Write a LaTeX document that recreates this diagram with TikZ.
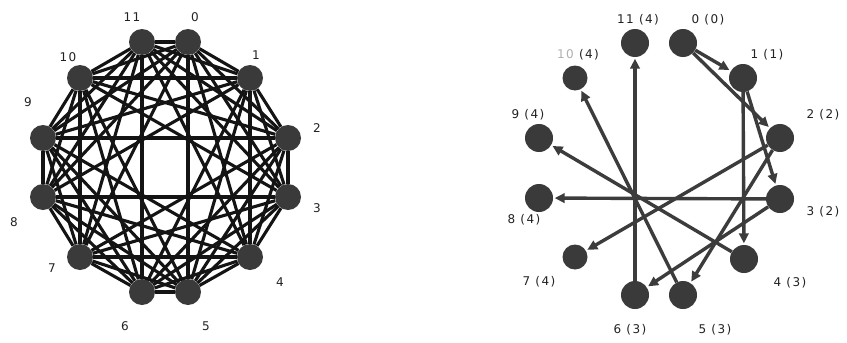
\documentclass[tikz,border=0pt]{standalone}
\usepackage{fontspec}
\setmainfont{DejaVu Sans}
\usetikzlibrary{arrows.meta}
\definecolor{nodegray}{HTML}{3A3A3A}
\definecolor{arcgray}{HTML}{3C3C3C}
\definecolor{labelgray}{HTML}{222222}
\definecolor{fadegray}{HTML}{B0B0B0}
\begin{document}
\begin{tikzpicture}[x=1pt,y=-1pt,
  vtx/.style={circle,fill=nodegray,inner sep=0pt,minimum size=26pt},
  rvtx/.style={circle,fill=nodegray,inner sep=0pt,minimum size=28pt},
  edge/.style={line width=3.1pt,draw=black!92},
  arc/.style={line width=3.4pt,draw=arcgray,-{Triangle[length=10pt,width=9.5pt]},shorten >=1.5pt},
  lbl/.style={font=\fontsize{12}{14}\selectfont\addfontfeature{LetterSpace=12},text=labelgray,inner sep=0pt}
]
\useasboundingbox (0,0) rectangle (847,343);
\fill[white] (0,0) rectangle (847,343);

% ---------- left graph ----------
\node[vtx] (L0)  at (188,42)  {};
\node[vtx] (L1)  at (250,78)  {};
\node[vtx] (L2)  at (288,138) {};
\node[vtx] (L3)  at (288,197) {};
\node[vtx] (L4)  at (250,257) {};
\node[vtx] (L5)  at (188,292) {};
\node[vtx] (L6)  at (142,292) {};
\node[vtx] (L7)  at (80,257)  {};
\node[vtx] (L8)  at (43,197)  {};
\node[vtx] (L9)  at (43,138)  {};
\node[vtx] (L10) at (80,78)   {};
\node[vtx] (L11) at (142,42)  {};

\foreach \i in {0,...,11}{
  \foreach \k in {1,...,5}{
    \pgfmathtruncatemacro\j{mod(\i+\k,12)}
    \draw[edge] (L\i) -- (L\j);
  }
}

\node[lbl] (tl0)  at (195,17)  {0};
\node[lbl] (tl1)  at (256,55)  {1};
\node[lbl] (tl2)  at (317,128) {2};
\node[lbl] (tl3)  at (317,208) {3};
\node[lbl] (tl4)  at (280,282) {4};
\node[lbl] (tl5)  at (206,326) {5};
\node[lbl] (tl6)  at (125,326) {6};
\node[lbl] (tl7)  at (52,268)  {7};
\node[lbl] (tl8)  at (14,222)  {8};
\node[lbl] (tl9)  at (28,102)  {9};
\node[lbl] (tl10) at (68,57)   {10};
\node[lbl] (tl11) at (132,17)  {11};

% ---------- right graph ----------
\node[rvtx] (R0)  at (683,43)  {};
\node[rvtx] (R1)  at (743,78)  {};
\node[rvtx] (R2)  at (780,138) {};
\node[rvtx] (R3)  at (780,199) {};
\node[rvtx] (R4)  at (744,259) {};
\node[rvtx] (R5)  at (683,295) {};
\node[rvtx] (R6)  at (635,295) {};
\node[rvtx,minimum size=25pt] (R7)  at (575,257) {};
\node[rvtx] (R8)  at (539,198) {};
\node[rvtx] (R9)  at (539,138) {};
\node[rvtx,minimum size=25pt] (R10) at (575,78)  {};
\node[rvtx] (R11) at (635,43)  {};

\draw[arc] (R0) -- (R1);
\draw[arc] (R0) -- (R2);
\draw[arc] (R1) -- (R3);
\draw[arc] (R1) -- (R4);
\draw[arc] (R2) -- (R7);
\draw[arc] (R2) -- (R5);
\draw[arc] (R3) -- (R8);
\draw[arc] (R3) -- (R6);
\draw[arc] (R4) -- (R9);
\draw[arc] (R5) -- (R10);
\draw[arc] (R6) -- (R11);

\node[lbl] (tr0)  at (708,20)  {0 (0)};
\node[lbl] (tr1)  at (767,55)  {1 (1)};
\node[lbl] (tr2)  at (823,115) {2 (2)};
\node[lbl] (tr3)  at (823,212) {3 (2)};
\node[lbl] (tr4)  at (790,283) {4 (3)};
\node[lbl] (tr5)  at (715,330) {5 (3)};
\node[lbl] (tr6)  at (630,330) {6 (3)};
\node[lbl] (tr7)  at (539,282) {7 (4)};
\node[lbl] (tr8)  at (524,220) {8 (4)};
\node[lbl] (tr9)  at (528,115) {9 (4)};
\node[lbl] (tr10) at (578,55)  {\textcolor{fadegray}{10} (4)};
\node[lbl] (tr11) at (638,20)  {11 (4)};
\end{tikzpicture}
\end{document}
